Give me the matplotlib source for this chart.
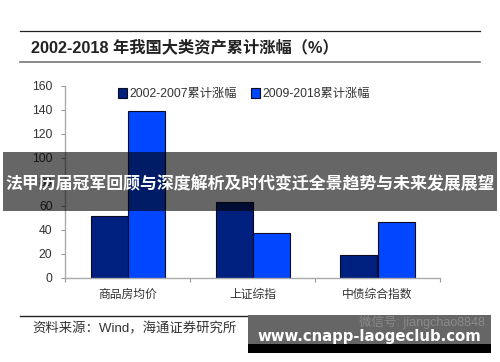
import numpy as np
import matplotlib
matplotlib.use('Agg')
import matplotlib.pyplot as plt
from matplotlib.patches import Rectangle

plt.rcParams['font.family'] = ['Liberation Sans', 'Noto Sans CJK SC', 'DejaVu Sans']

categories = ['商品房均价', '上证综指', '中债综合指数']
early_values = [51, 63, 19]
late_values = [139, 37, 46]
series_names = ['2002-2007累计涨幅', '2009-2018累计涨幅']
yticks = [0, 20, 40, 60, 80, 100, 120, 140, 160]

W, H = 500, 362
fig = plt.figure(figsize=(W / 100, H / 100), dpi=100)


# pixel position in the picture -> figure fraction
def fx(x):
    return x / W


def fy(y):
    return 1 - y / H


def hline(y, x0, x1, color, lw):
    fig.add_artist(plt.Line2D([fx(x0), fx(x1)], [fy(y), fy(y)], color=color, lw=lw))


def box(x0, y0, x1, y1, color, alpha=1.0, z=10):
    fig.add_artist(Rectangle((fx(x0), fy(y1)), (x1 - x0) / W, (y1 - y0) / H,
                             transform=fig.transFigure, facecolor=color,
                             edgecolor='none', alpha=alpha, zorder=z))


ax = fig.add_axes([fx(65), fy(277.5), (440 - 65) / W, (277.5 - 85.7) / H])
x = np.arange(len(categories)) + 0.5
bar_w = 0.296
ax.bar(x - bar_w / 2, early_values, bar_w, color='#002080', edgecolor='#0a0a20', linewidth=0.8, label=series_names[0])
ax.bar(x + bar_w / 2, late_values, bar_w, color='#0047ff', edgecolor='#0a0a20', linewidth=0.8, label=series_names[1])

ax.set_xlim(0, 3)
ax.set_ylim(0, 160)
ax.set_yticks(yticks)
ax.set_xticks([0, 1, 2, 3])
ax.set_xticklabels([])
ax.set_xticks(x, categories, minor=True)
ax.tick_params(axis='x', which='minor', length=0, pad=8, labelsize=8.5, labelcolor='#333333')
ax.tick_params(axis='x', which='major', length=3, color='#999999', width=0.8)
ax.tick_params(axis='y', length=3, color='#999999', width=0.8, labelsize=8.8, labelcolor='#333333', pad=6)
for side in ['top', 'right']:
    ax.spines[side].set_visible(False)
for side in ['left', 'bottom']:
    ax.spines[side].set_color('#aaaaaa')
    ax.spines[side].set_linewidth(1.0)

ax.legend(loc='upper left', bbox_to_anchor=((112 - 65) / 375, 1.02), ncol=2, frameon=False,
          fontsize=8.8, handlelength=0.7, handleheight=0.9, handletextpad=0.2,
          columnspacing=1.2, borderpad=0, labelcolor='#333333')

# header and footer rules
hline(31, 20, 480, '#222222', 0.9)
hline(62, 20, 480, '#777777', 1.2)
hline(316, 20, 480, '#222222', 1.0)

fig.text(fx(31), fy(47), '2002-2018 年我国大类资产累计涨幅（%）', fontsize=11.7, fontweight='bold',
         color='#222222', va='center', ha='left')
fig.text(fx(32), fy(329), '资料来源：Wind，海通证券研究所', fontsize=9.6, color='#333333', va='center', ha='left')

# overlay banner
box(3, 152, 497, 211, 'black', alpha=0.6)
fig.text(fx(250), fy(184), '法甲历届冠军回顾与深度解析及时代变迁全景趋势与未来发展展望', color='white',
         fontsize=12.2, fontweight='bold', ha='center', va='center', zorder=11)

# site stamp bottom right
box(248, 315, 491, 344, '#666666')
box(248, 344, 491, 353, 'black')
fig.text(fx(485), fy(322), '微信号: jiangchao8848', color='#8a8a8a', fontsize=9, ha='right', va='center', zorder=11)
fig.text(fx(369), fy(337), 'www.cnapp-laogeclub.com', color='white', fontsize=10.7, fontweight='bold',
         family='DejaVu Sans', ha='center', va='center', zorder=11)

fig.savefig('out.png', dpi=100)
